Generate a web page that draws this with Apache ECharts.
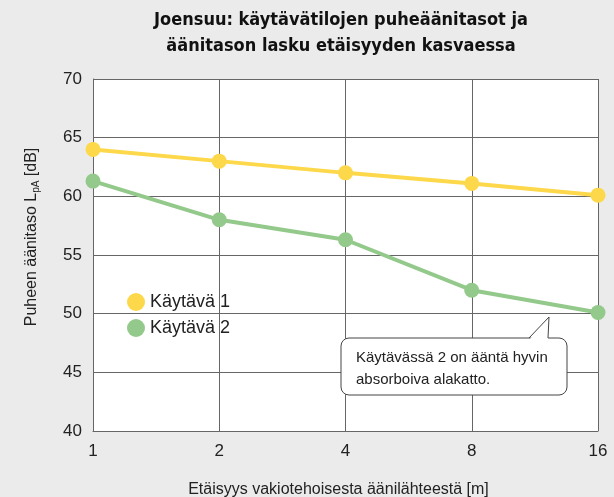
<!DOCTYPE html>
<html>
<head>
<meta charset="utf-8">
<script src="https://cdn.jsdelivr.net/npm/echarts@6/dist/echarts.min.js"></script>
<style>
    html, body { margin: 0; padding: 0; background: #ebebeb; }
    #chart { width: 614px; height: 497px; }
</style>
</head>
<body>
<div id="chart"></div>
<script>
    // etäisyys [m]
    var distances = ['1', '2', '4', '8', '16'];
    var kaytava1 = [64.0, 63.0, 62.0, 61.1, 60.1];
    var kaytava2 = [61.3, 58.0, 56.3, 52.0, 50.1];
    var yTicks = [40, 45, 50, 55, 60, 65, 70];

    var myChart = echarts.init(document.getElementById('chart'));
    var fontFam = 'Liberation Sans, Arial, sans-serif';

    var option = {
        backgroundColor: '#ebebeb',
        animation: false,
        title: {
            text: 'Joensuu: käytävätilojen puheäänitasot ja\näänitason lasku etäisyyden kasvaessa',
            left: 336,
            textAlign: 'center',
            top: 2,
            textStyle: {
                fontFamily: 'Liberation Sans Narrow, DejaVu Sans Condensed, sans-serif',
                fontWeight: 'bold',
                fontSize: 18,
                lineHeight: 26,
                color: '#111'
            }
        },
        legend: {
            orient: 'vertical',
            left: 122,
            top: 288,
            itemGap: 8,
            itemWidth: 18,
            itemHeight: 18,
            icon: 'circle',
            textStyle: { fontFamily: fontFam, fontSize: 18, color: '#222' },
            data: ['Käytävä 1', 'Käytävä 2']
        },
        grid: { left: 93, right: 16, top: 79, bottom: 66, outerBoundsMode: 'none' },
        xAxis: {
            type: 'category',
            data: distances,
            boundaryGap: false,
            name: 'Etäisyys vakiotehoisesta äänilähteestä [m]',
            nameLocation: 'middle',
            nameGap: 51,
            nameTextStyle: { fontFamily: fontFam, fontSize: 16, color: '#222', padding: [0, 14, 0, 0] },
            axisLine: { lineStyle: { color: '#666', width: 1 } },
            axisTick: { show: false },
            axisLabel: { fontFamily: fontFam, fontSize: 17, color: '#222', margin: 12 },
            splitLine: { show: true, lineStyle: { color: '#666', width: 1 } }
        },
        yAxis: {
            type: 'value',
            min: yTicks[0],
            max: yTicks[yTicks.length - 1],
            interval: 5,
            name: '{a|Puheen äänitaso L}{s|pA}{a| [dB]}',
            nameLocation: 'middle',
            nameRotate: 90,
            nameGap: 52,
            nameTextStyle: {
                padding: [0, 0, 0, 36],
                rich: {
                    a: { fontFamily: fontFam, fontSize: 16, color: '#222' },
                    s: { fontFamily: fontFam, fontSize: 10, color: '#222', padding: [9, 0, 0, 0] }
                }
            },
            axisLine: { show: true, lineStyle: { color: '#666', width: 1 } },
            axisTick: { show: false },
            axisLabel: { fontFamily: fontFam, fontSize: 17, color: '#222', margin: 11 },
            splitLine: { show: true, lineStyle: { color: '#666', width: 1 } }
        },
        graphic: [
            {
                type: 'rect',
                z: -1,
                shape: { x: 93, y: 79, width: 505, height: 352 },
                style: { fill: '#fff' }
            },
            {
                type: 'rect',
                z: 100,
                shape: { x: 341, y: 338, width: 226, height: 57, r: 8 },
                style: { fill: '#fff', stroke: '#444', lineWidth: 1 }
            },
            {
                type: 'polygon',
                z: 101,
                shape: { points: [[529.5, 339.5], [549, 317], [548, 339.5]] },
                style: { fill: '#fff' }
            },
            {
                type: 'polyline',
                z: 102,
                shape: { points: [[529, 338], [549, 317], [548, 338]] },
                style: { fill: null, stroke: '#444', lineWidth: 1 }
            },
            {
                type: 'text',
                z: 103,
                left: 356,
                top: 347,
                style: {
                    text: 'Käytävässä 2 on ääntä hyvin\nabsorboiva alakatto.',
                    fontFamily: fontFam,
                    fontSize: 15,
                    lineHeight: 22,
                    fill: '#222'
                }
            }
        ],
        series: [
            {
                name: 'Käytävä 1',
                type: 'line',
                data: kaytava1,
                symbol: 'circle',
                symbolSize: 15,
                lineStyle: { color: '#fdd84a', width: 4 },
                itemStyle: { color: '#fdd84a' }
            },
            {
                name: 'Käytävä 2',
                type: 'line',
                data: kaytava2,
                symbol: 'circle',
                symbolSize: 15,
                lineStyle: { color: '#93c98a', width: 4 },
                itemStyle: { color: '#93c98a' }
            }
        ]
    };

    myChart.setOption(option);
</script>
</body>
</html>
